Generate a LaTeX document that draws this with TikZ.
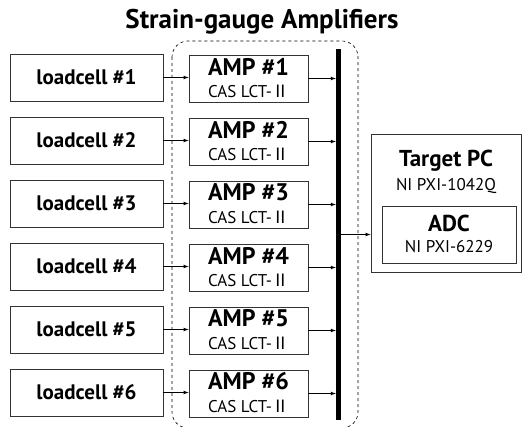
\documentclass[tikz,border=0pt]{standalone}
\usepackage{fontspec}
\setmainfont{PT Sans}
\newfontfamily\krfont{Noto Sans CJK KR}
\usetikzlibrary{positioning}
\newcommand{\lctname}{CAS LCT-{\krfont Ⅱ}}

\begin{document}
\begin{tikzpicture}[x=1pt,y=-1pt,
	box/.style={draw=black!80,line width=0.8pt,inner sep=0pt},
	big/.style={font=\fontsize{23}{25}\selectfont\bfseries},
	small/.style={font=\fontsize{17}{19}\selectfont}]
		\useasboundingbox (0,0) rectangle (523,427);
		% title
		\node[font=\fontsize{27}{29}\selectfont\bfseries] (title) at (262,22) {Strain-gauge Amplifiers};
		% amplifier group
		\draw[dashed,line width=0.6pt,rounded corners=16pt] (172,41) rectangle (358,428);
		% bus bar
		\node[fill=black,minimum width=5pt,minimum height=371pt,inner sep=0pt] (bar) at (338.5,234.5) {};
		% loadcells and amplifiers
		\foreach \i in {1,...,6} {
			\node[box,font=\fontsize{21}{23}\selectfont\bfseries,minimum width=153pt,minimum height=47pt] (lc\i) at (86.5,{77.5+63*(\i-1)}) {loadcell \#\i};
			\node[box,minimum width=119pt,minimum height=47pt] (amp\i) at (248.5,{78.5+63*(\i-1)}) {};
			\node[big,font=\fontsize{24}{26}\selectfont\bfseries] (ampname\i) at ([yshift=12pt]amp\i.center) {AMP \#\i};
			\node[small] (amptype\i) at ([yshift=-12.5pt]amp\i.center) {\lctname};
			\draw[line width=0.7pt,-latex] (lc\i.east) -- (amp\i.west |- lc\i.east);
			\draw[line width=0.7pt,-latex] (amp\i.east) -- (bar.west |- amp\i.east);
		}
		% target pc
		\node[box,minimum width=150pt,minimum height=138pt] (pc) at (446,203) {};
		\node[big] (pcname) at (446,161) {Target PC};
		\node[small] (pctype) at (446,186) {NI PXI-1042Q};
		\node[box,minimum width=134pt,minimum height=57pt] (adc) at (449,234.5) {};
		\node[big] (adcname) at (449,223) {ADC};
		\node[small] (adctype) at (449,246.5) {NI PXI-6229};
		\draw[line width=0.7pt,-latex] (bar.east) -- (pc.west |- bar.east);
\end{tikzpicture}
\end{document}
